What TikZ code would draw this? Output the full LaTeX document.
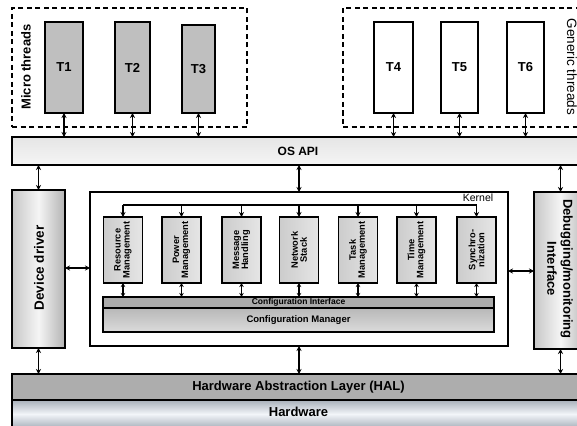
\documentclass[tikz,border=0pt]{standalone}
\usepackage{fontspec}
\setmainfont{Liberation Sans}
\usetikzlibrary{arrows.meta}
\definecolor{hwedge}{RGB}{168,176,186}
\definecolor{hwmid}{RGB}{242,245,249}
\tikzset{
  box/.style={draw=black, line width=1.4pt, inner sep=0pt, outer sep=0pt},
  dashbox/.style={draw=black, line width=1.4pt, dash pattern=on 5pt off 3.5pt, inner sep=0pt},
  thrgray/.style={box, fill=black!25},
  thrwhite/.style={box, fill=white},
  modbox/.style={box, line width=1.2pt, left color=black!20, right color=black!10, minimum width=39pt, minimum height=66pt},
  cyl/.style={box, left color=black!22, right color=black!30, middle color=black!4},
  biarrow/.style={line width=1.3pt, {Stealth[length=5pt,width=5pt]}-{Stealth[length=5pt,width=5pt]}},
  downarrow/.style={line width=1.3pt, -{Stealth[length=5pt,width=5pt]}},
  txt/.style={inner sep=0pt, font=\bfseries},
}
\begin{document}
\begin{tikzpicture}[x=1pt,y=-1pt]
\useasboundingbox (0,0) rectangle (577,425);
\clip (0,0) rectangle (577,425);
\fill[white] (0,0) rectangle (577,425);

% thread groups
\node[dashbox, minimum width=235pt, minimum height=119pt] (micro) at (129.5,67.5) {};
\node[dashbox, minimum width=242pt, minimum height=119pt] (generic) at (464,67.5) {};
\node[txt, rotate=90, font=\bfseries\fontsize{13}{15}\selectfont] (microl) at (26,67) {Micro threads};
\node[txt, rotate=-90, font=\fontsize{13.5}{15}\selectfont] (genericl) at (572,67) {Generic threads};

\node[thrgray, minimum width=38pt, minimum height=91pt] (t1) at (64,67.5) {};
\node[thrgray, minimum width=35pt, minimum height=91pt] (t2) at (132.5,67.5) {};
\node[thrgray, minimum width=33pt, minimum height=88pt] (t3) at (198.5,69) {};
\node[thrwhite, minimum width=39pt, minimum height=91pt] (t4) at (393.5,67.5) {};
\node[thrwhite, minimum width=37pt, minimum height=91pt] (t5) at (459.5,67.5) {};
\node[thrwhite, minimum width=37pt, minimum height=91pt] (t6) at (525.5,67.5) {};
\foreach \n/\t in {t1/T1,t2/T2,t3/T3,t4/T4,t5/T5,t6/T6}
  \node[txt, font=\bfseries\fontsize{13}{15}\selectfont] (\n l) at (\n.center) {\t};

% OS API
\node[box, top color=black!10, bottom color=black!4, minimum width=573pt, minimum height=28pt] (os) at (298.5,151) {};
\node[txt, font=\bfseries\fontsize{12}{14}\selectfont] (osl) at (298,151) {OS API};

\foreach \n in {t1,t2,t3,t4,t5,t6}
  \draw[biarrow] (\n.south) -- (\n.south |- os.north);

% Device driver and debugging
\node[cyl, minimum width=53pt, minimum height=158pt] (dd) at (38.5,269) {};
\node[txt, rotate=90, font=\bfseries\fontsize{13.5}{15}\selectfont] (ddl) at (39,268) {Device driver};
\node[cyl, minimum width=53pt, minimum height=157pt] (dbg) at (560.5,270.5) {};
\node[txt, rotate=-90, align=center, font=\bfseries\fontsize{13}{16}\selectfont] (dbgl) at (560,269) {Debugging/monitoring\\Interface};

% Kernel
\node[box, line width=1.2pt, fill=white, minimum width=418pt, minimum height=154pt] (kernel) at (299,269) {};
\node[inner sep=0pt, font=\fontsize{10.5}{12}\selectfont] (kernell) at (478,198) {Kernel};

\draw[biarrow] (os.south -| dd.north) -- (dd.north);
\draw[biarrow] (os.south -| kernel.north) -- (kernel.north);
\draw[biarrow] (os.south -| dbg.north) -- (dbg.north);

\coordinate (hy1) at (0,268);
\coordinate (hy2) at (0,271);
\draw[biarrow] (dd.east |- hy1) -- (kernel.west |- hy1);
\draw[biarrow] (kernel.east |- hy2) -- (dbg.west |- hy2);

% Modules
\node[modbox] (m1) at (123,250) {};
\node[modbox] (m2) at (181.5,250) {};
\node[modbox] (m3) at (241.5,250) {};
\node[modbox] (m4) at (299,250) {};
\node[modbox] (m5) at (358,250) {};
\node[modbox] (m6) at (416.5,250) {};
\node[modbox] (m7) at (476.5,250) {};
\foreach \n/\t in {m1/{Resource\\Management}, m2/{Power\\Management}, m3/{Message\\Handling}, m4/{Network\\Stack}, m5/{Task\\Management}, m6/{Time\\Management}, m7/{Synchro-\\nization}}
  \node[txt, rotate=90, align=center, font=\bfseries\fontsize{9.3}{9}\selectfont] (\n l) at (\n.center) {\t};

\coordinate (bus) at (0,205);
\draw[line width=1.3pt] (m1.north |- bus) -- (m7.north |- bus);
\foreach \n in {m1,m2,m3,m4,m5,m6,m7}
  \draw[downarrow] (\n.north |- bus) -- (\n.north);

% Configuration
\node[box, line width=1.2pt, fill=black!33, minimum width=391pt, minimum height=11pt] (ci) at (298.5,302.5) {};
\node[txt, font=\bfseries\fontsize{8.5}{9}\selectfont] (cil) at (298.5,302.5) {Configuration Interface};
\node[box, line width=1.2pt, top color=black!28, bottom color=black!14, minimum width=391pt, minimum height=24pt] (cm) at (298.5,320) {};
\node[txt, font=\bfseries\fontsize{9.5}{11}\selectfont] (cml) at (298.5,320) {Configuration Manager};
\foreach \n in {m1,m2,m3,m4,m5,m6,m7}
  \draw[line width=1.2pt, {Stealth[length=4pt,width=4.5pt]}-{Stealth[length=4pt,width=4.5pt]}] (\n.south) -- (\n.south |- ci.north);

% HAL and Hardware
\node[box, fill=black!32, minimum width=573pt, minimum height=26pt] (hal) at (298.5,387) {};
\node[txt, font=\bfseries\fontsize{13}{15}\selectfont] (hall) at (298.5,387) {Hardware Abstraction Layer (HAL)};
\node[box, top color=hwedge, bottom color=hwedge, middle color=hwmid, minimum width=573pt, minimum height=28pt] (hw) at (298.5,414) {};
\node[txt, font=\bfseries\fontsize{13}{15}\selectfont] (hwl) at (298.5,412) {Hardware};

\draw[biarrow] (dd.south) -- (dd.south |- hal.north);
\draw[biarrow] (kernel.south) -- (kernel.south |- hal.north);
\draw[biarrow] (dbg.south) -- (dbg.south |- hal.north);
\end{tikzpicture}
\end{document}
